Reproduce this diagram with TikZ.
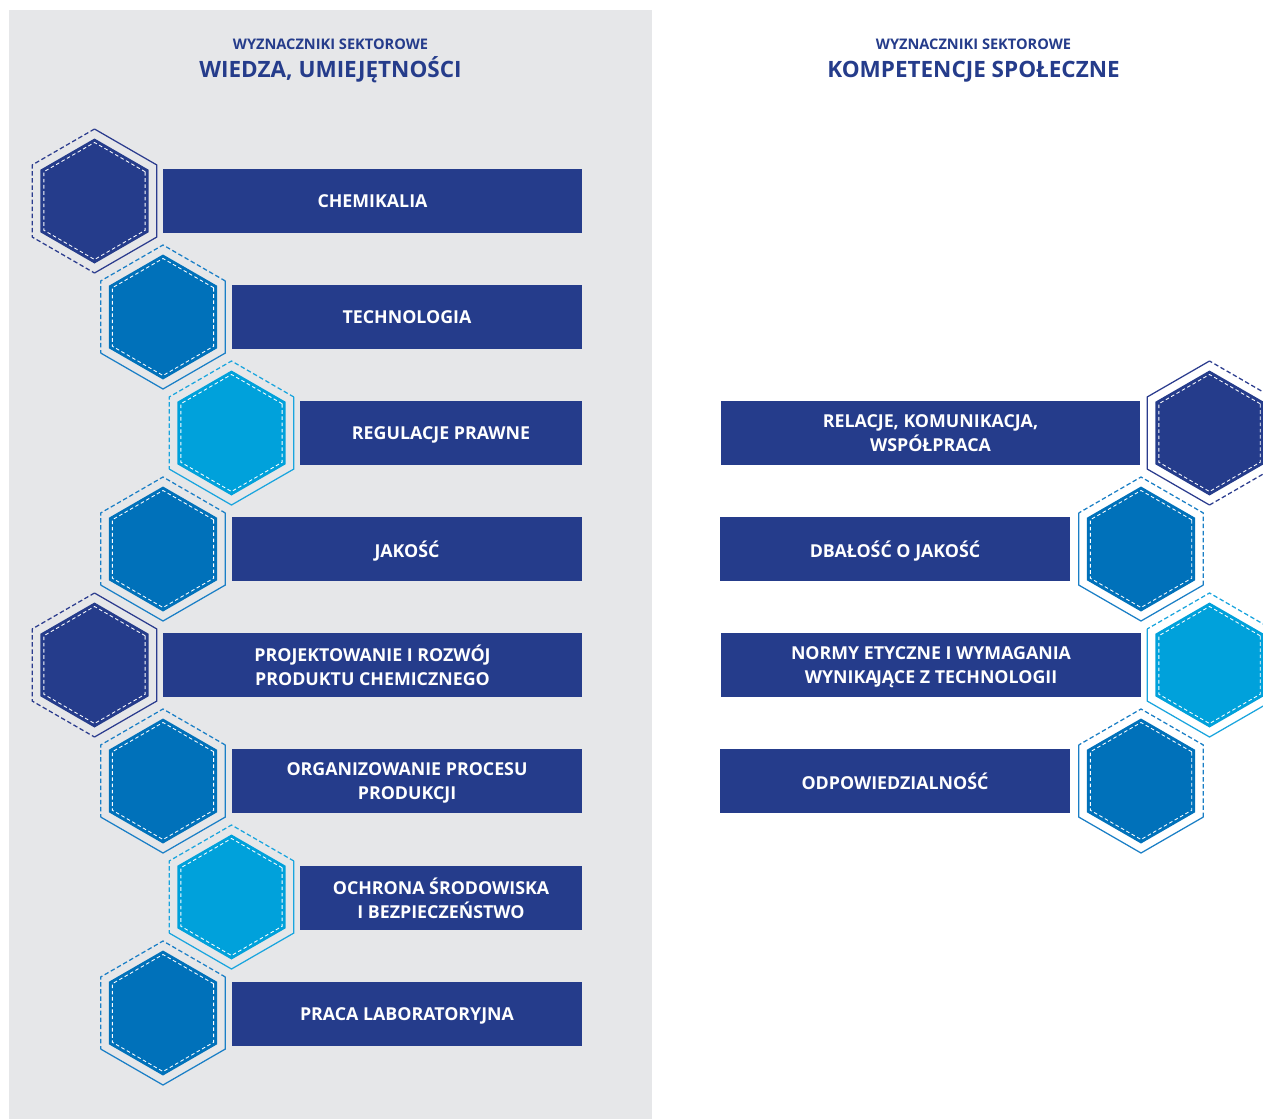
\documentclass[tikz,border=0pt]{standalone}
\usepackage{fontspec}
\setmainfont{Open Sans}
\definecolor{navy}{HTML}{253C8B}
\definecolor{midblue}{HTML}{0071BA}
\definecolor{skyblue}{HTML}{00A1DB}
\definecolor{navyrim}{HTML}{2B3C8E}
\definecolor{midrim}{HTML}{1A7FC6}
\definecolor{skyrim}{HTML}{1AA5DE}
\definecolor{panel}{HTML}{E6E7E9}

% One hexagonal cell: #1 centre coordinate, #2 fill, #3 rim colour,
% #4 angle of the first corner of the dashed half of the rim
\newcommand\hexcell[4]{%
  \begin{scope}[shift={(#1)}]
    \fill[#2] (30:62.5pt) -- (90:62.5pt) -- (150:62.5pt) -- (210:62.5pt)
      -- (270:62.5pt) -- (330:62.5pt) -- cycle;
    \draw[stitch] (30:58.5pt) -- (90:58.5pt) -- (150:58.5pt) -- (210:58.5pt)
      -- (270:58.5pt) -- (330:58.5pt) -- cycle;
    \begin{scope}[rotate=#4]
      \draw[#3, rimdash] (0:72pt) -- (60:72pt) -- (120:72pt) -- (180:72pt);
      \draw[#3, rim] (180:72pt) -- (240:72pt) -- (300:72pt) -- (360:72pt);
    \end{scope}
  \end{scope}}

\begin{document}
\begin{tikzpicture}[x=1pt, y=-1pt,
  rim/.style={line width=1.25pt, line join=miter},
  rimdash/.style={rim, dash pattern=on 4.5pt off 2.6pt},
  stitch/.style={draw=white, line width=0.85pt, dash pattern=on 3.6pt off 2.6pt},
  bar/.style={fill=navy, text=white, font=\fontsize{17.8}{23.5}\selectfont\bfseries,
    minimum height=64pt, inner sep=0pt, outer sep=0pt, align=center, text depth=0pt},
  kicker/.style={text=navy, font=\fontsize{14.6}{17}\selectfont\bfseries, anchor=base, inner sep=0pt},
  heading/.style={text=navy, font=\fontsize{22.5}{26}\selectfont\bfseries, anchor=base, inner sep=0pt},
 ]
\useasboundingbox (0,0) rectangle (1263,1119);
\fill[white] (0,0) rectangle (1263,1119);
\fill[panel] (9,10) rectangle (652,1119);

% headings
\node[kicker]  (k1) at (330.5,49) {WYZNACZNIKI SEKTOROWE};
\node[heading] (t1) at (330.5,77) {WIEDZA, UMIEJĘTNOŚCI};
\node[kicker]  (k2) at (973.5,49) {WYZNACZNIKI SEKTOROWE};
\node[heading] (t2) at (973.5,77) {KOMPETENCJE SPOŁECZNE};

% left column: hexagon centres
\coordinate (h1) at (94.5,201);
\coordinate (h2) at (163,317);
\coordinate (h3) at (231.5,433);
\coordinate (h4) at (163,549);
\coordinate (h5) at (94.5,665);
\coordinate (h6) at (163,781);
\coordinate (h7) at (231.5,897);
\coordinate (h8) at (163,1013);

\hexcell{h1}{navy}{navyrim}{90}
\hexcell{h2}{midblue}{midrim}{30}
\hexcell{h3}{skyblue}{skyrim}{30}
\hexcell{h4}{midblue}{midrim}{30}
\hexcell{h5}{navy}{navyrim}{90}
\hexcell{h6}{midblue}{midrim}{30}
\hexcell{h7}{skyblue}{skyrim}{30}
\hexcell{h8}{midblue}{midrim}{30}

% left column: bars
\node[bar, anchor=west, minimum width=419pt] (b1) at (163,201) {CHEMIKALIA};
\node[bar, anchor=west, minimum width=350pt] (b2) at (232,317) {TECHNOLOGIA};
\node[bar, anchor=west, minimum width=282pt] (b3) at (300,433) {REGULACJE PRAWNE};
\node[bar, anchor=west, minimum width=350pt] (b4) at (232,549) {JAKOŚĆ};
\node[bar, anchor=west, minimum width=419pt] (b5) at (163,665) {PROJEKTOWANIE I ROZWÓJ\\PRODUKTU CHEMICZNEGO};
\node[bar, anchor=west, minimum width=350pt] (b6) at (232,781) {ORGANIZOWANIE PROCESU\\PRODUKCJI};
\node[bar, anchor=west, minimum width=282pt] (b7) at (300,898) {OCHRONA ŚRODOWISKA\\I BEZPIECZEŃSTWO};
\node[bar, anchor=west, minimum width=350pt] (b8) at (232,1014) {PRACA LABORATORYJNA};

% right column: hexagon centres
\coordinate (r1) at (1209.5,433);
\coordinate (r2) at (1141,549);
\coordinate (r3) at (1209.5,665);
\coordinate (r4) at (1141,781);

\hexcell{r1}{navy}{navyrim}{270}
\hexcell{r2}{midblue}{midrim}{-30}
\hexcell{r3}{skyblue}{skyrim}{-30}
\hexcell{r4}{midblue}{midrim}{-30}

% right column: bars
\node[bar, anchor=east, minimum width=419pt] (c1) at (1140,433) {RELACJE, KOMUNIKACJA,\\WSPÓŁPRACA};
\node[bar, anchor=east, minimum width=350pt] (c2) at (1070,549) {DBAŁOŚĆ O JAKOŚĆ};
\node[bar, anchor=east, minimum width=420pt] (c3) at (1141,665) {NORMY ETYCZNE I WYMAGANIA\\WYNIKA\kern-1.5ptJĄCE Z TECHNOLOGII};
\node[bar, anchor=east, minimum width=350pt] (c4) at (1070,781) {ODPOWIEDZIALNOŚĆ};
\end{tikzpicture}
\end{document}
